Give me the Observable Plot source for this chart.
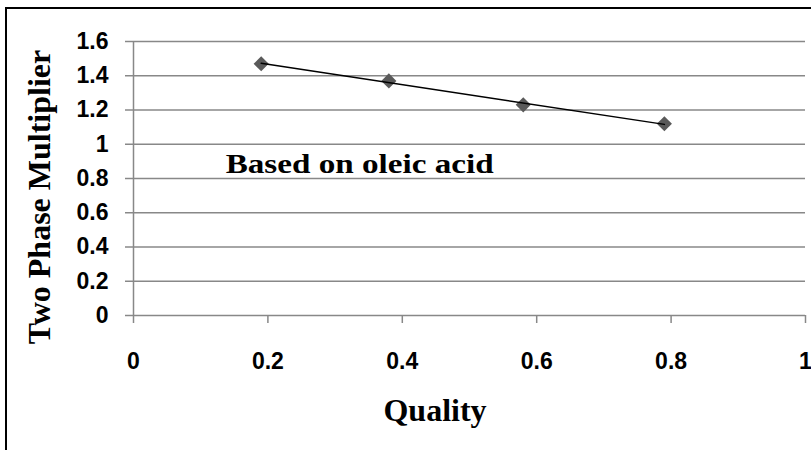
<!DOCTYPE html>
<html>
<head>
<meta charset="utf-8">
<script src="https://cdn.jsdelivr.net/npm/d3@7"></script>
<script src="https://cdn.jsdelivr.net/npm/@observablehq/plot@0.6"></script>
<style>
  html, body { margin: 0; padding: 0; background: #fff; }
  #wrap { position: relative; width: 811px; height: 450px; overflow: hidden; background: #fff; }
  #border { position: absolute; left: 5px; top: 7px; width: 1000px; height: 1000px;
            border-left: 2px solid #000; border-top: 2px solid #000; pointer-events: none; }
  #wrap svg { position: absolute; left: 0; top: 0; max-width: none !important; }
  #wrap svg g[aria-label$="tick label"] text {
    font-family: "Liberation Sans", Arial, sans-serif !important;
    font-size: 23px !important;
    font-weight: bold !important;
  }
</style>
</head>
<body>
<div id="wrap"><div id="border"></div></div>
<script>
// ---- data ----
const quality = [0.19, 0.38, 0.58, 0.79];
const multiplier = [1.47, 1.37, 1.23, 1.12];

const xTicks = [0, 0.2, 0.4, 0.6, 0.8, 1];
const xTickLabels = ["0", "0.2", "0.4", "0.6", "0.8", "1"];
const yTicks = [0, 0.2, 0.4, 0.6, 0.8, 1, 1.2, 1.4, 1.6];
const yTickLabels = ["0", "0.2", "0.4", "0.6", "0.8", "1", "1.2", "1.4", "1.6"];

const xLabel = "Quality";
const yLabel = "Two Phase Multiplier";
const note = "Based on oleic acid";

// ---- build ----
const data = quality.map((q, i) => ({q, m: multiplier[i]}));
const fmt = (ticks, labels) => d => labels[ticks.findIndex(t => Math.abs(t - d) < 1e-9)];
const grid = "#888888";
const serif = "'Liberation Serif', 'Times New Roman', serif";
const tickFont = "'Liberation Sans', Arial, sans-serif";

const chart = Plot.plot({
  width: 811,
  height: 450,
  marginLeft: 133,
  marginRight: 6,
  marginTop: 41,
  marginBottom: 135,
  x: {domain: [0, 1]},
  y: {domain: [0, 1.6]},
  style: {
    fontFamily: tickFont,
    fontSize: "23px",
    fontWeight: "bold",
    color: "#000",
    background: "transparent",
    overflow: "visible"
  },
  marks: [
    Plot.ruleY(yTicks, {stroke: grid, strokeWidth: 1.5}),
    Plot.ruleX([0], {stroke: grid, strokeWidth: 1.5}),
    Plot.axisY({ticks: yTicks, tickSize: 8, tickPadding: 17, stroke: grid, strokeWidth: 1.5,
                fill: "#000", fontSize: 23, fontWeight: "bold", fontFamily: tickFont,
                tickFormat: fmt(yTicks, yTickLabels), label: null}),
    Plot.axisX({ticks: xTicks, tickSize: 8, tickPadding: 29, stroke: grid, strokeWidth: 1.5,
                fill: "#000", fontSize: 23, fontWeight: "bold", fontFamily: tickFont,
                tickFormat: fmt(xTicks, xTickLabels), label: null}),
    Plot.dot(data, {x: "q", y: "m", symbol: "diamond2", r: 6.8, fill: "#5a5a5a", stroke: "none"}),
    Plot.linearRegressionY(data, {x: "q", y: "m", ci: 0, stroke: "#000", strokeWidth: 1.5}),
    Plot.text([note], {x: 0.3365, y: 0.887, text: d => d, fontFamily: serif,
                       fontSize: 28, fontWeight: "bold", fill: "#000"})
  ]
});

document.getElementById("wrap").insertBefore(chart, document.getElementById("border"));

const svg = d3.select(chart);

// stretch the annotation to the reference width
svg.selectAll("text").filter(function() { return this.textContent === note; })
  .attr("textLength", 268).attr("lengthAdjust", "spacingAndGlyphs");

// axis titles
svg.append("text")
  .attr("transform", "translate(50,197) rotate(-90)")
  .attr("text-anchor", "middle")
  .style("font-family", serif).style("font-size", "32px").style("font-weight", "bold")
  .attr("fill", "#000")
  .text(yLabel);

svg.append("text")
  .attr("x", 435).attr("y", 421)
  .attr("text-anchor", "middle")
  .style("font-family", serif).style("font-size", "32px").style("font-weight", "bold")
  .attr("fill", "#000")
  .text(xLabel);
</script>
</body>
</html>
